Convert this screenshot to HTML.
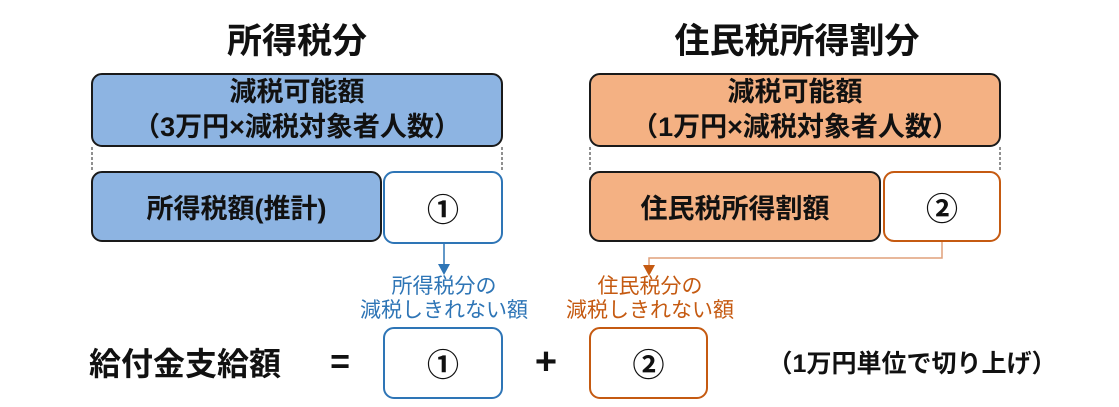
<!DOCTYPE html>
<html><head><meta charset="utf-8"><style>
body{margin:0;width:1119px;height:407px;background:#fff;position:relative;overflow:hidden;font-family:"Liberation Sans","Noto Sans CJK JP",sans-serif;}
.a{position:absolute;box-sizing:border-box;display:flex;align-items:center;justify-content:center;text-align:center;white-space:nowrap;}
.b{border-radius:11px;font-weight:bold;color:#111;}
.blue{background:#8DB4E2;border:2px solid #1a1a1a;}
.org{background:#F4B183;border:2px solid #1a1a1a;}
.wb{background:#fff;border:2px solid #2E75B6;}
.wo{background:#fff;border:2px solid #C55A11;}
.t{font-weight:bold;font-size:35px;color:#111;}
.lb{font-size:21px;line-height:24px;color:#2E75B6;}
.lo{font-size:21px;line-height:24px;color:#C55A11;}
.c{font-size:32px;font-weight:bold;}
</style></head><body>
<div class="a t" style="left:147px;top:14px;width:300px;height:48px;">所得税分</div>
<div class="a t" style="left:597px;top:14px;width:400px;height:48px;">住民税所得割分</div>

<div class="a b blue" style="left:91px;top:73px;width:412px;height:74px;font-size:27px;line-height:35px;">減税可能額<br>（3万円×減税対象者人数）</div>
<div class="a b org" style="left:589px;top:73px;width:412px;height:74px;font-size:27px;line-height:35px;">減税可能額<br>（1万円×減税対象者人数）</div>

<div class="a b blue" style="left:91px;top:171px;width:291px;height:71px;font-size:27px;">所得税額(推計)</div>
<div class="a b wb c" style="left:383px;top:171px;width:120px;height:73px;">①</div>
<div class="a b org" style="left:589px;top:171px;width:292px;height:71px;font-size:27px;">住民税所得割額</div>
<div class="a b wo c" style="left:883px;top:171px;width:118px;height:71px;">②</div>

<svg style="position:absolute;left:0;top:0" width="1119" height="407">
<g stroke="#222" stroke-width="1" stroke-dasharray="3,2">
<line x1="92" y1="147" x2="92" y2="171"/><line x1="502" y1="147" x2="502" y2="171"/>
<line x1="590" y1="147" x2="590" y2="171"/><line x1="1000" y1="147" x2="1000" y2="171"/>
</g>
<line x1="444" y1="244" x2="444" y2="265" stroke="#2E75B6" stroke-width="1.5"/>
<polygon points="438,264 450,264 444,275" fill="#2E75B6"/>
<polyline points="942,242 942,258 649,258 649,266" fill="none" stroke="#E0A07A" stroke-width="1.5"/>
<polygon points="643,265 655,265 649,276" fill="#C55A11"/>
</svg>

<div class="a lb" style="left:334px;top:274px;width:220px;height:50px;">所得税分の<br>減税しきれない額</div>
<div class="a lo" style="left:540px;top:274px;width:220px;height:50px;">住民税分の<br>減税しきれない額</div>

<div class="a" style="left:70px;top:338px;width:230px;height:48px;font-weight:bold;font-size:32px;color:#111;">給付金支給額</div>
<div class="a" style="left:320px;top:338px;width:40px;height:48px;font-weight:bold;font-size:34px;color:#111;">=</div>
<div class="a b wb c" style="left:383px;top:327px;width:120px;height:72px;">①</div>
<div class="a" style="left:526px;top:338px;width:40px;height:48px;font-weight:bold;font-size:38px;color:#111;">+</div>
<div class="a b wo c" style="left:589px;top:327px;width:119px;height:72px;">②</div>
<div class="a" style="left:752px;top:342px;width:320px;height:40px;font-weight:bold;font-size:25px;color:#111;">（1万円単位で切り上げ）</div>
</body></html>
